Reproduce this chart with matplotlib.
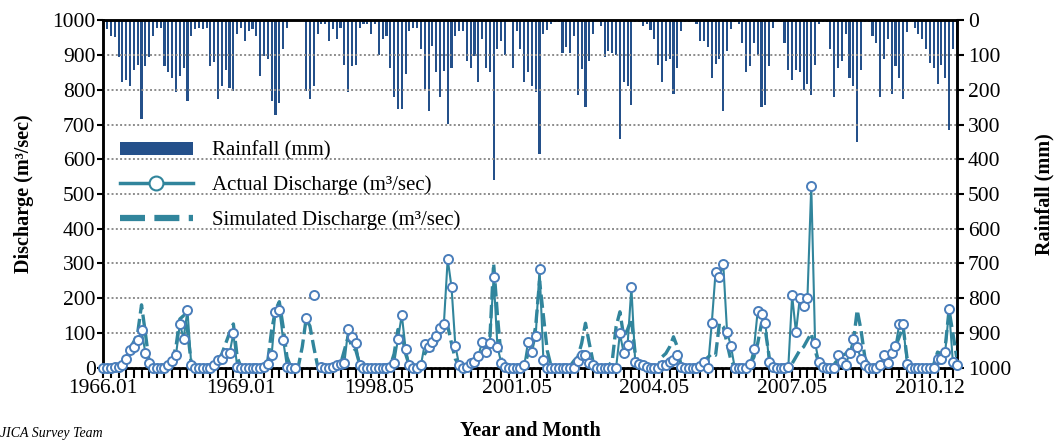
import numpy as np
import matplotlib
matplotlib.use('Agg')
import matplotlib.pyplot as plt
from matplotlib.patches import Patch
from matplotlib.lines import Line2D

plt.rcParams['font.family'] = ['Liberation Serif', 'DejaVu Serif']

# category axis: one value per month shown (224 months)
tick_pos = [0, 36, 72, 108, 144, 180, 216]
tick_labels = ['1966.01', '1969.01', '1998.05', '2001.05', '2004.05', '2007.05', '2010.12']

# monthly rainfall (mm)
rainfall = [
    5, 24, 44, 49, 105, 178, 172, 189, 144, 128, 283, 133,
    105, 44, 21, 21, 133, 150, 165, 206, 160, 138, 233, 44,
    26, 21, 26, 21, 133, 121, 228, 189, 144, 194, 204, 39,
    21, 60, 31, 26, 44, 160, 104, 110, 233, 272, 238, 83,
    21, 0, 0, 0, 0, 204, 226, 189, 39, 10, 10, 61,
    26, 55, 21, 128, 206, 133, 128, 21, 10, 10, 39, 10,
    99, 55, 44, 138, 221, 255, 255, 155, 31, 21, 21, 83,
    199, 260, 73, 148, 221, 146, 299, 138, 44, 31, 31, 117,
    138, 104, 178, 55, 138, 149, 459, 83, 60, 99, 0, 138,
    31, 83, 178, 150, 189, 205, 385, 39, 29, 12, 5, 5,
    95, 78, 95, 44, 216, 139, 250, 117, 39, 0, 17, 105,
    89, 95, 99, 342, 178, 189, 245, 5, 5, 17, 10, 29,
    55, 128, 178, 117, 112, 211, 138, 31, 5, 5, 2, 10,
    60, 60, 78, 165, 126, 110, 260, 87, 26, 5, 10, 66,
    148, 133, 66, 99, 250, 245, 133, 21, 2, 5, 66, 144,
    172, 144, 148, 202, 182, 216, 128, 10, 5, 5, 83, 221,
    138, 117, 39, 165, 189, 350, 144, 5, 5, 44, 66, 221,
    110, 55, 211, 133, 165, 228, 34, 0, 21, 39, 55, 83,
    122, 138, 182, 128, 165, 316, 83, 83,
]

nan = np.nan
# actual discharge (m3/sec), gaps where no record
actual = [
    0, 0, 0, 2, 3, 7, 26, 50, 60, 79, 108, 43,
    14, 0, 0, 0, 0, 7, 19, 36, 126, 84, 166, 7,
    0, 0, 0, 0, 0, 7, 21, 26, 43, 41, 99, 2,
    0, 0, 0, 0, 0, 0, 2, 10, 38, 161, 166, 81,
    2, 0, 0, nan, nan, 142, nan, 210, nan, 2, 0, 0,
    2, 7, 12, 14, 110, 89, 70, 7, 0, 0, 0, 0,
    0, 0, 0, 2, 14, 82, 152, 55, 7, 0, 0, 7,
    68, 60, 74, 90, 113, 126, 313, 232, 63, 7, 0, 2,
    14, 16, 34, 74, 45, 70, 261, 60, 14, 2, 0, 0,
    0, 0, 7, 74, 45, 92, 285, 23, 0, 0, 0, 0,
    0, 0, 0, 0, 19, 36, 38, 14, 7, 0, 0, 0,
    0, 0, 0, 99, 41, 65, 231, 16, 12, 7, 2, 0,
    0, 0, 7, 7, 16, 21, 36, 2, 0, 0, 0, 0,
    4, 15, 0, 128, 276, 260, 299, 103, 63, 0, 0, 0,
    0, 12, 53, 163, 154, 130, 15, 2, 0, 0, 0, 2,
    208, 102, 200, 179, 202, 524, 72, 15, 2, 0, 0, 0,
    38, 16, 7, 43, 82, 60, 24, 7, 0, 0, 0, 9,
    36, 14, 43, 63, 125, 126, 10, 0, 0, 0, 0, 0,
    0, 0, 24, 26, 45, 168, 16, 7,
]

# simulated discharge (m3/sec)
simulated = [
    0, 0, 0, 0, 2, 10, 25, 55, 75, 100, 181, 100,
    15, 2, 0, 0, 0, 5, 20, 60, 140, 150, 110, 10,
    2, 0, 0, 0, 0, 5, 20, 40, 70, 100, 126, 30,
    2, 0, 0, 0, 0, 2, 5, 20, 108, 166, 190, 118,
    31, 2, 0, 5, 60, 140, 120, 60, 5, 0, 0, 0,
    0, 2, 10, 50, 90, 60, 50, 10, 0, 0, 0, 0,
    0, 0, 2, 5, 40, 110, 100, 40, 5, 0, 0, 5,
    40, 55, 50, 70, 99, 110, 120, 70, 25, 5, 0, 2,
    5, 15, 31, 45, 60, 80, 300, 150, 25, 2, 0, 0,
    0, 2, 5, 40, 60, 120, 250, 150, 50, 5, 0, 0,
    0, 2, 5, 20, 31, 70, 128, 70, 16, 2, 0, 0,
    5, 20, 118, 161, 89, 110, 140, 40, 10, 2, 0, 0,
    2, 5, 31, 41, 60, 89, 60, 5, 0, 0, 0, 2,
    10, 20, 30, 40, 36, 128, 118, 70, 21, 2, 0, 0,
    2, 10, 30, 70, 128, 108, 31, 2, 0, 0, 2, 5,
    12, 31, 50, 60, 80, 99, 50, 12, 2, 0, 2, 10,
    25, 35, 40, 55, 75, 166, 108, 30, 5, 0, 2, 15,
    25, 36, 50, 60, 89, 118, 30, 2, 0, 0, 0, 2,
    5, 10, 45, 40, 60, 166, 99, 30,
]

x = np.arange(len(rainfall))

fig = plt.figure(figsize=(10.59, 4.41), dpi=100)
ax = fig.add_axes([0.0975, 0.1662, 0.8059, 0.7878])
ax2 = ax.twinx()

# rainfall bars hang from the top on the inverted right axis
ax2.bar(x, rainfall, width=0.55, color='#24508A', edgecolor='none')
ax2.set_ylim(1000, 0)
ax2.set_yticks(np.arange(0, 1001, 100))

ax.set_zorder(ax2.get_zorder() + 1)
ax.patch.set_visible(False)

ax.plot(x, simulated, color='#31859C', linewidth=2.4, dashes=(4, 1.6), zorder=3)
ax.plot(x, actual, color='#31859C', linewidth=1.5, marker='o', markersize=6.5,
        markerfacecolor='white', markeredgecolor='#4A7EBB', markeredgewidth=1.4,
        zorder=4, clip_on=False)

ax.set_xlim(0, len(x) - 1)
ax.set_ylim(0, 1000)
ax.set_yticks(np.arange(0, 1001, 100))
ax.yaxis.grid(True, linestyle=(0, (1, 1.2)), color='#8C8C8C', linewidth=1.4)
ax.set_axisbelow(True)

ax.set_xticks(tick_pos)
ax.set_xticklabels(tick_labels)
ax.set_xticks(np.arange(0, len(x), 2), minor=True)

for a in (ax, ax2):
    for s in a.spines.values():
        s.set_linewidth(1.8)
    a.tick_params(axis='both', which='both', direction='out', labelsize=15.5, width=1.5)
ax.tick_params(axis='x', which='both', length=7, pad=1)
ax.tick_params(axis='y', length=4, pad=1.5)
ax2.tick_params(axis='y', length=5, pad=3)

ax.set_ylabel('Discharge (m³/sec)', fontsize=14.5, fontweight='bold', labelpad=13)
ax2.set_ylabel('Rainfall (mm)', fontsize=14.5, fontweight='bold', labelpad=17, rotation=90)
ax.set_xlabel('Year and Month', fontsize=14.5, fontweight='bold', labelpad=17)

handles = [
    Patch(facecolor='#24508A', edgecolor='none'),
    Line2D([], [], color='#31859C', linewidth=2.5, marker='o', markersize=10,
           markerfacecolor='white', markeredgecolor='#31859C', markeredgewidth=1.5),
    Line2D([], [], color='#31859C', linewidth=4.5, dashes=(4, 1.5)),
]
labels = ['Rainfall (mm)', 'Actual Discharge (m³/sec)', 'Simulated Discharge (m³/sec)']
ax.legend(handles, labels, loc='upper left', bbox_to_anchor=(0.0196, 0.652),
          frameon=False, fontsize=15, handlelength=3.5, handleheight=0.6,
          handletextpad=0.9, labelspacing=0.72, borderpad=0, borderaxespad=0)

fig.text(0.0, 0.003, 'JICA Survey Team', fontsize=10, style='italic', va='bottom')

fig.savefig('out.png', dpi=100)
